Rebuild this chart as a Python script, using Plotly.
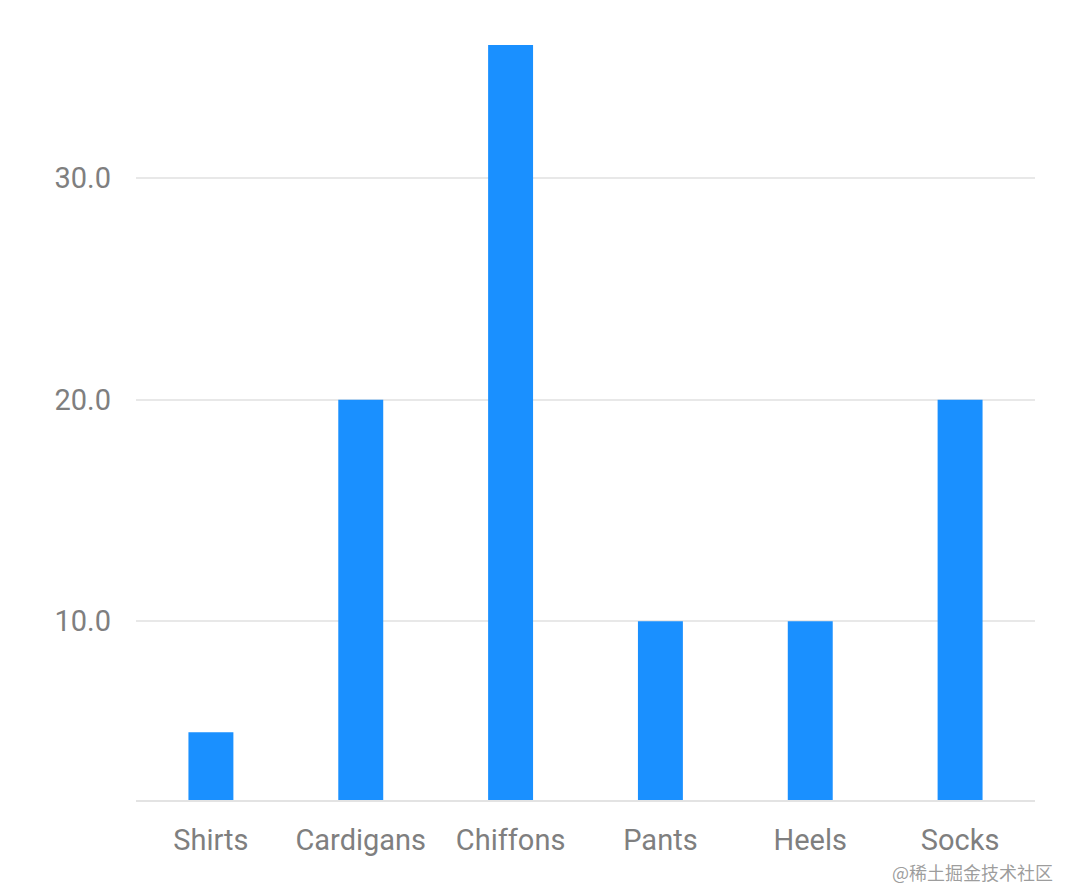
import plotly.graph_objects as go

categories = ["Shirts", "Cardigans", "Chiffons", "Pants", "Heels", "Socks"]
values = [5, 20, 36, 10, 10, 20]
y_ticks = [10, 20, 30]
y_tick_labels = ["10.0", "20.0", "30.0"]

fig = go.Figure()
fig.add_trace(go.Bar(
    x=categories, y=values,
    marker=dict(color="#1a90ff", line=dict(width=0)),
    width=0.3,
))

fig.update_layout(
    width=1080, height=896,
    margin=dict(l=128, r=53, t=37, b=104),
    paper_bgcolor="white", plot_bgcolor="white",
    showlegend=False,
    font=dict(family="Roboto, Noto Sans, sans-serif", color="#7f7f7f", size=29),
    xaxis=dict(
        showgrid=False, showline=True, linecolor="#e3e3e3", linewidth=2,
        ticks="", tickfont=dict(size=29, color="#7f7f7f"),
        ticklabelstandoff=13,
    ),
    yaxis=dict(
        range=[1.94, 36], tickvals=y_ticks, ticktext=y_tick_labels,
        showgrid=True, gridcolor="#e8e8e8", gridwidth=2,
        zeroline=False, showline=False, ticks="",
        tickfont=dict(size=29, color="#7f7f7f"),
        ticklabelstandoff=24,
    ),
    annotations=[dict(
        text="@稀土掘金技术社区", xref="paper", yref="paper",
        x=1.0 + 20 / 899, y=-72 / 755, xanchor="right", yanchor="middle",
        showarrow=False,
        font=dict(family="Noto Sans CJK SC", size=18, color="rgba(140,140,140,0.85)"),
    )],
)

fig.write_html("out.html")
